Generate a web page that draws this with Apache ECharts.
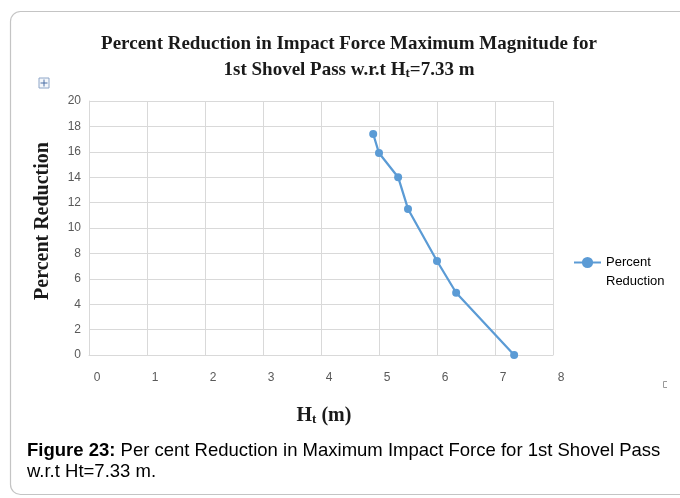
<!DOCTYPE html>
<html>
<head>
<meta charset="utf-8">
<style>
  html, body { margin: 0; padding: 0; background: #ffffff; }
  #chart { width: 680px; height: 498px; }
</style>
<script src="https://cdn.jsdelivr.net/npm/echarts@6/dist/echarts.min.js"></script>
</head>
<body>
<div id="chart"></div>
<script>
// Trench height Ht (m) and the matching percent reduction of the peak impact force
const heightValues = [4.9, 5.0, 5.33, 5.5, 6.0, 6.33, 7.33];
const reductionValues = [17.4, 15.9, 14.0, 11.5, 7.4, 4.9, 0];
const xTicks = [0, 1, 2, 3, 4, 5, 6, 7, 8];
const yTicks = [0, 2, 4, 6, 8, 10, 12, 14, 16, 18, 20];
const seriesName = 'Percent Reduction';

const lineColor = '#5B9BD5';
const gridColor = '#d9d9d9';
const labelColor = '#595959';
const serif = '"Liberation Serif", "Times New Roman", serif';
const sans = '"Liberation Sans", Arial, sans-serif';
const narrow = '"Liberation Sans Narrow", "Liberation Sans", sans-serif';

const chart = echarts.init(document.getElementById('chart'), null, { renderer: 'canvas' });

const option = {
  backgroundColor: '#ffffff',
  animation: false,
  title: {
    left: 349,
    top: 31,
    padding: 0,
    textAlign: 'center',
    text: '{b|Percent Reduction in Impact Force Maximum Magnitude for}\n{b|1st Shovel Pass w.r.t H}{s|t}{b|=7.33 m}',
    textStyle: {
      rich: {
        b: { fontFamily: serif, fontWeight: 'bold', fontSize: 19, color: '#1a1a1a', lineHeight: 26 },
        s: { fontFamily: serif, fontWeight: 'bold', fontSize: 13, color: '#1a1a1a', padding: [8, 0, 0, 0], lineHeight: 26 }
      }
    }
  },
  grid: { left: 89, right: 127, top: 101, bottom: 143 },
  legend: {
    left: 573,
    top: 234,
    padding: 0,
    itemWidth: 27,
    itemHeight: 14,
    itemGap: 0,
    data: [seriesName],
    // blank first line keeps the icon level with "Percent"
    formatter: function () { return ' \nPercent\nReduction'; },
    textStyle: {
      fontFamily: narrow,
      fontSize: 13,
      color: '#000000',
      lineHeight: 19
    }
  },
  xAxis: {
    type: 'value',
    min: xTicks[0],
    max: xTicks[xTicks.length - 1],
    interval: 1,
    name: '{b|H}{s|t}{b| (m)}',
    nameLocation: 'middle',
    nameGap: 50,
    nameTextStyle: {
      padding: [0, 0, 0, 6],
      rich: {
        b: { fontFamily: serif, fontWeight: 'bold', fontSize: 20, color: '#1a1a1a' },
        s: { fontFamily: serif, fontWeight: 'bold', fontSize: 13, color: '#1a1a1a', padding: [8, 0, 0, 0] }
      }
    },
    axisLine: { show: true, lineStyle: { color: gridColor, width: 1 } },
    axisTick: { show: false },
    axisLabel: {
      margin: 17,
      padding: [0, 0, 0, 16],
      fontFamily: narrow,
      fontSize: 12,
      color: labelColor
    },
    splitLine: { show: true, lineStyle: { color: gridColor, width: 1 } }
  },
  yAxis: {
    type: 'value',
    min: yTicks[0],
    max: yTicks[yTicks.length - 1],
    interval: 2,
    name: 'Percent Reduction',
    nameLocation: 'middle',
    nameGap: 36,
    nameTextStyle: {
      fontFamily: serif, fontWeight: 'bold', fontSize: 20, color: '#1a1a1a',
      padding: [0, 0, 0, 14]
    },
    axisLine: { show: true, lineStyle: { color: gridColor, width: 1 } },
    axisTick: { show: false },
    axisLabel: { margin: 8, fontFamily: narrow, fontSize: 12, color: labelColor },
    splitLine: { show: true, lineStyle: { color: gridColor, width: 1 } }
  },
  series: [{
    name: seriesName,
    type: 'line',
    data: heightValues.map((h, i) => [h, reductionValues[i]]),
    symbol: 'circle',
    symbolSize: 8,
    lineStyle: { color: lineColor, width: 2.25 },
    itemStyle: { color: lineColor },
    emphasis: { disabled: true }
  }],
  graphic: [
    // figure frame with rounded corners
    {
      type: 'rect',
      silent: true,
      z: -10,
      shape: { x: 10.5, y: 11.5, width: 720, height: 483, r: 10 },
      style: { fill: 'none', stroke: '#c4c4c4', lineWidth: 1.2 }
    },
    // chart move handle
    {
      type: 'group',
      left: 38,
      top: 77,
      children: [
        { type: 'rect', shape: { x: 0.5, y: 0.5, width: 10, height: 10 }, style: { fill: '#f4f7fb', stroke: '#8ea6c8', lineWidth: 1 } },
        { type: 'line', shape: { x1: 5.5, y1: 2, x2: 5.5, y2: 9 }, style: { stroke: '#4a6fa5', lineWidth: 1 } },
        { type: 'line', shape: { x1: 2, y1: 5.5, x2: 9, y2: 5.5 }, style: { stroke: '#4a6fa5', lineWidth: 1 } }
      ]
    },
    // small resize mark at the right edge
    {
      type: 'polyline',
      silent: true,
      shape: { points: [[667, 381.5], [663.5, 381.5], [663.5, 387.5], [667, 387.5]] },
      style: { fill: 'none', stroke: '#9a9a9a', lineWidth: 1 }
    },
    // figure caption
    {
      type: 'text',
      left: 27,
      top: 441,
      style: {
        text: '{b|Figure 23:}{n| Per cent Reduction in Maximum Impact Force for 1st Shovel Pass}\n{n|w.r.t Ht=7.33 m.}',
        rich: {
          b: { fontFamily: sans, fontWeight: 'bold', fontSize: 18.5, color: '#1a1a1a', lineHeight: 21 },
          n: { fontFamily: sans, fontSize: 18.5, color: '#1a1a1a', lineHeight: 21 }
        }
      }
    }
  ]
};

chart.setOption(option);
</script>
</body>
</html>
